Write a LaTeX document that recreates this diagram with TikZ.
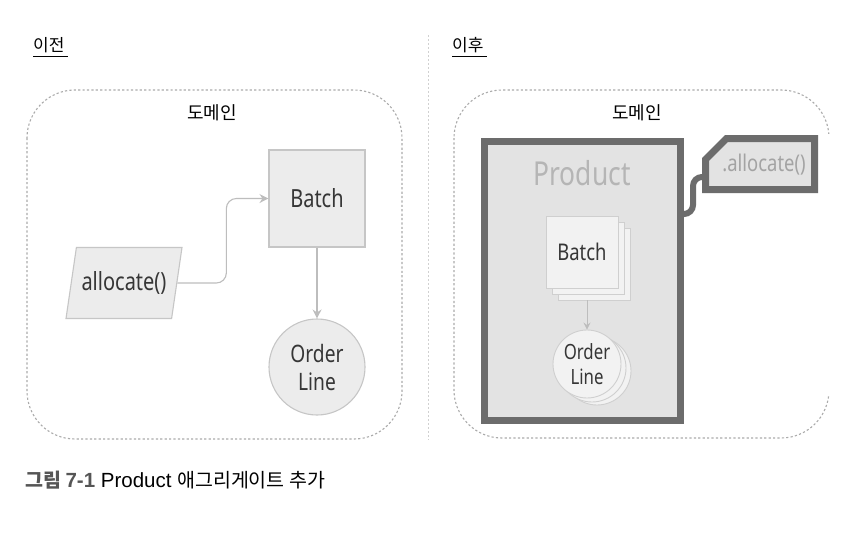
\documentclass[tikz,border=0pt]{standalone}
\usepackage{fontspec}
\setmainfont{Noto Sans}
\newfontfamily\kr{Noto Sans CJK KR}
\newfontfamily\lib{Liberation Sans}
\newfontfamily\cond[FakeStretch=0.8]{Noto Sans}
\usetikzlibrary{shapes.geometric,arrows.meta,calc}
\definecolor{boxfill}{HTML}{ECECEC}
\definecolor{boxline}{HTML}{C6C6C6}
\definecolor{arrowc}{HTML}{BDBDBD}
\definecolor{dash}{HTML}{ABABAB}
\definecolor{darkb}{HTML}{6C6C6C}
\definecolor{prodfill}{HTML}{E3E3E3}
\definecolor{prodtext}{HTML}{B5B5B5}
\definecolor{txt}{HTML}{363636}
\definecolor{capgray}{HTML}{555555}
\tikzset{
  domainbox/.style={draw=dash, line width=1.1pt, dash pattern=on 2.2pt off 2.2pt, rounded corners=48pt},
  lbox/.style={draw=boxline, fill=boxfill, line width=1.1pt, text=txt, font=\cond\fontsize{25}{28}\selectfont},
  rbox/.style={draw=boxline!85, fill=boxfill!70!white, line width=0.9pt, text=txt, font=\cond\fontsize{23}{26}\selectfont},
  arr/.style={draw=arrowc, line width=1.1pt, -{Stealth[length=9pt,width=9pt,inset=3pt]}},
  sarr/.style={draw=arrowc, line width=0.9pt, -{Stealth[length=7pt,width=7pt,inset=2.5pt]}},
  heading/.style={font=\kr\fontsize{17}{20}\selectfont, text=black, inner sep=0pt},
  domlabel/.style={font=\kr\fontsize{18}{21}\selectfont, text=black, inner sep=0pt},
}
\begin{document}
\begin{tikzpicture}[x=1pt,y=-1pt]
\useasboundingbox (0,0) rectangle (858,546);
\fill[white] (0,0) rectangle (858,546);

% headings
\node[heading, anchor=west] (before) at (33,45) {이전};
\draw[line width=0.9pt] (33,56) -- (68,56);
\node[heading, anchor=west] (after) at (452,45) {이후};
\draw[line width=0.9pt] (452,56) -- (487,56);

% divider
\draw[draw=black!18, line width=0.9pt, dash pattern=on 1.5pt off 2.5pt] (428,35) -- (428,440);

% ---------- left ----------
\draw[domainbox] (27,90) rectangle (402,439);
\node[domlabel] (domL) at (212,113) {도메인};

\node[lbox, minimum width=96pt, minimum height=97pt, inner sep=0pt] (batchL) at (317,198.5) {Batch};
\node[lbox, trapezium, trapezium left angle=68, trapezium right angle=112,
      trapezium stretches=true, minimum width=116pt, minimum height=71pt, inner sep=0pt] (alloc) at (124,283) {allocate()};
\node[lbox, circle, minimum size=96pt, inner sep=0pt, align=center,
      font=\cond\fontsize{24}{28}\selectfont] (olL) at (317,367) {Order\\Line};

\draw[arr, rounded corners=10pt] (alloc.east) -- ++(49,0) |- (batchL.west);
\draw[arr] (batchL.south) -- (olL.north);

% ---------- right ----------
\draw[domainbox] (454,90) rectangle (829,438);
\fill[white] (824,134) rectangle (834,396);
\node[domlabel] (domR) at (637,113) {도메인};

\node[draw=darkb, line width=7pt, fill=prodfill, minimum width=196pt, minimum height=279pt, inner sep=0pt] (prod) at (582.5,281) {};
\node[text=prodtext, font=\cond\fontsize{33}{36}\selectfont, inner sep=0pt] (prodlabel) at (582,173) {Product};

% batch stack
\node[rbox, minimum width=72pt, minimum height=72pt, inner sep=0pt] (batchR3) at (594,264) {};
\node[rbox, minimum width=72pt, minimum height=72pt, inner sep=0pt] (batchR2) at (588,258) {};
\node[rbox, minimum width=72pt, minimum height=72pt, inner sep=0pt] (batchR) at (582,252) {Batch};

% order line stack
\node[rbox, circle, minimum size=68pt, inner sep=0pt] (olR3) at (597,371) {};
\node[rbox, circle, minimum size=68pt, inner sep=0pt] (olR2) at (592,368) {};
\node[rbox, circle, minimum size=68pt, inner sep=0pt, align=center,
      font=\cond\fontsize{21}{25}\selectfont] (olR) at (587,364) {Order\\Line};

\draw[sarr] (olR.north |- batchR3.south) -- (olR.north);

% .allocate() tag
\path[draw=darkb, fill=prodfill, line width=7pt, line join=miter]
  (726.5,138.5) -- (814.5,138.5) -- (814.5,189.5) -- (705.5,189.5) -- (705.5,159.5) -- cycle;
\node[text=prodtext!90!black, font=\cond\fontsize{23}{26}\selectfont, inner sep=0pt] (tag) at (764,165) {.allocate()};
\coordinate (wstart) at (683,214);
\coordinate (wend) at (704,177);
\draw[draw=darkb, line width=6pt, rounded corners=9pt] (wstart) -- (693,214) -- (693,177) -- (wend);

% caption
\node[anchor=west, inner sep=0pt] (cap) at (25,480)
  {{\color{capgray}\kr\bfseries\fontsize{19.5}{22}\selectfont 그림\ \lib\fontsize{20.5}{23}\selectfont 7-1\ }{\lib\fontsize{20.5}{23}\selectfont Product\ }{\kr\fontsize{19.5}{22}\selectfont 애그리게이트 추가}};
\end{tikzpicture}
\end{document}
